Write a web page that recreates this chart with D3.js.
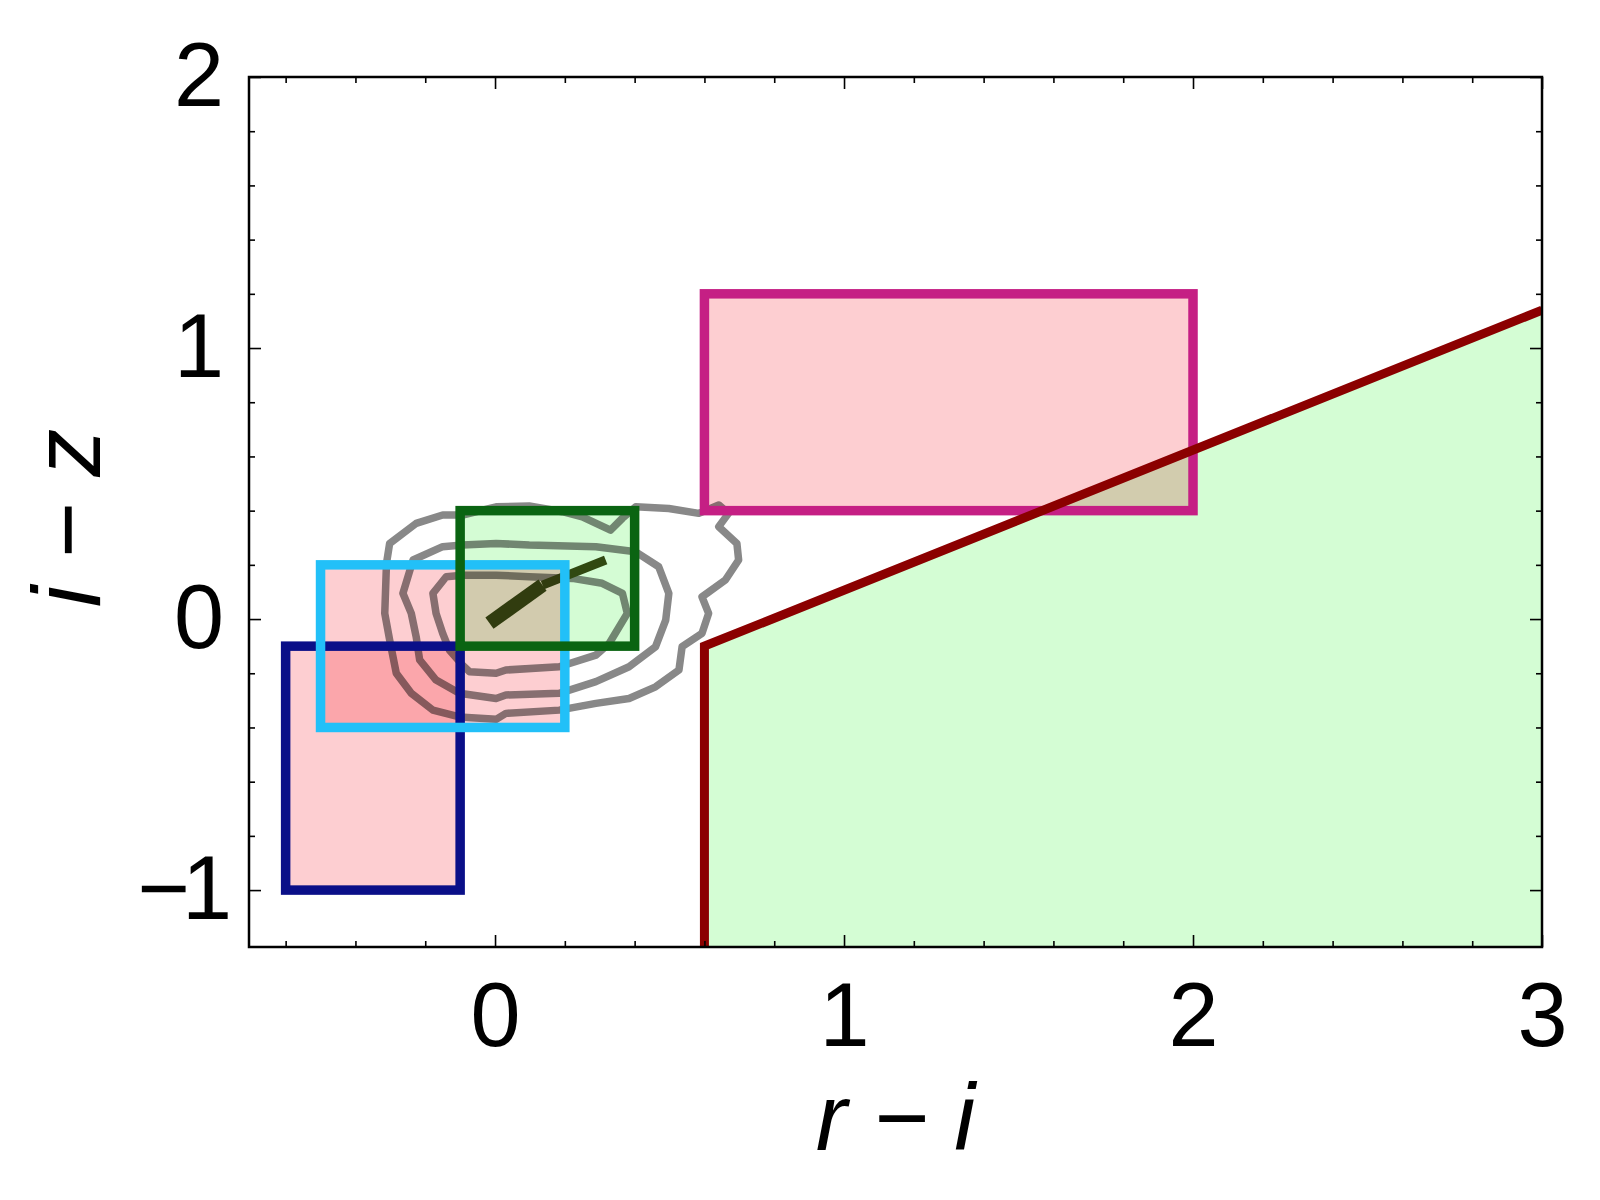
<!DOCTYPE html>
<html>
<head>
<meta charset="utf-8">
<script src="https://cdn.jsdelivr.net/npm/d3@7"></script>
<style>
  html, body { margin: 0; padding: 0; background: #fff; }
  svg { display: block; }
  .tick text { font-family: "Liberation Sans", Arial, Helvetica, sans-serif; fill: #000; }
</style>
</head>
<body>
<svg id="chart" width="1600" height="1200"></svg>
<script>
// ---------------- DATA ----------------
const xDomain = [-0.705, 3.0];
const yDomain = [-1.21, 2.0];
const xTicksMajor = [0, 1, 2, 3];
const yTicksMajor = [-1, 0, 1, 2];
const xTicksMinor = [-0.6, -0.4, -0.2, 0.2, 0.4, 0.6, 0.8, 1.2, 1.4, 1.6, 1.8, 2.2, 2.4, 2.6, 2.8];
const yTicksMinor = [-0.8, -0.6, -0.4, -0.2, 0.2, 0.4, 0.6, 0.8, 1.2, 1.4, 1.6, 1.8];
const xTitle = "r − i";
const yTitle = "i − z";

// selection boxes (r−i, i−z)
const boxNames = ["navy", "cyan", "green", "magenta"];
const boxX0 = [-0.6, -0.5, -0.1, 0.6];
const boxX1 = [-0.1, 0.2, 0.4, 2.0];
const boxY0 = [-1.0, -0.4, -0.1, 0.4];
const boxY1 = [-0.1, 0.2, 0.4, 1.2];

// colour cut (red boundary) and region below it
const cutX = [0.6, 0.6, 3.0];
const cutY = [-1.21, -0.1, 1.14];

// density contours (r−i, i−z)
const contourOuterX = [-0.311,-0.316,-0.302,-0.283,-0.240,-0.178,-0.102,0.003,0.031,0.184,0.289,0.384,0.460,0.527,0.536,0.593,0.612,0.593,0.660,0.698,0.693,0.641,0.669,0.641,0.584,0.498,0.403,0.365,0.331,0.250,0.193,0.098,0.003,-0.093,-0.150,-0.226,-0.302];
const contourOuterY = [0.206,0.021,-0.077,-0.200,-0.274,-0.336,-0.361,-0.370,-0.348,-0.336,-0.311,-0.293,-0.250,-0.188,-0.102,-0.053,0.021,0.082,0.144,0.218,0.279,0.341,0.390,0.421,0.390,0.408,0.414,0.372,0.328,0.377,0.396,0.417,0.414,0.384,0.384,0.353,0.279];
const contourMidX = [-0.235,-0.264,-0.240,-0.226,-0.216,-0.169,-0.102,0.003,0.031,0.184,0.289,0.384,0.460,0.489,0.498,0.469,0.403,0.289,0.098,0.003,-0.093,-0.150];
const contourMidY = [0.218,0.095,0.021,-0.065,-0.151,-0.225,-0.274,-0.293,-0.280,-0.274,-0.231,-0.176,-0.102,-0.004,0.095,0.193,0.248,0.267,0.273,0.279,0.273,0.267];
const contourInnerX = [-0.140,-0.178,-0.169,-0.150,-0.131,-0.093,-0.073,0.003,0.031,0.184,0.289,0.327,0.379,0.365,0.307,0.222,0.098,0.003,-0.093];
const contourInnerY = [0.156,0.095,0.021,-0.053,-0.114,-0.170,-0.194,-0.200,-0.188,-0.176,-0.133,-0.090,0.021,0.095,0.132,0.150,0.156,0.162,0.162];

// dense core streak
const streakX = [-0.016, 0.136, 0.317];
const streakY = [-0.015, 0.125, 0.218];

// ---------------- STYLE ----------------
const W = 1600, H = 1200;
const mLeft = 249, mRight = 1542, mTop = 77, mBottom = 947;
const boxStroke = { navy: "#0a0f88", cyan: "#22c0f8", green: "#0a6412", magenta: "#c51f84" };
const boxFill = { navy: "#fdced1", cyan: "#fdced1", green: "#d4fcd4", magenta: "#fdced1" };

const svg = d3.select("#chart");
svg.append("rect").attr("width", W).attr("height", H).attr("fill", "#fff");

const x = d3.scaleLinear().domain(xDomain).range([mLeft, mRight]);
const y = d3.scaleLinear().domain(yDomain).range([mBottom, mTop]);

svg.append("defs").append("clipPath").attr("id", "clip")
  .append("rect").attr("x", mLeft).attr("y", mTop).attr("width", mRight - mLeft).attr("height", mBottom - mTop);

const plot = svg.append("g").attr("clip-path", "url(#clip)").style("isolation", "isolate");
plot.append("rect").attr("x", mLeft).attr("y", mTop).attr("width", mRight - mLeft).attr("height", mBottom - mTop).attr("fill", "#fff");

// region below the cut
const cutPts = cutX.map((d, i) => [d, cutY[i]]);
const regionPts = cutPts.concat([[xDomain[1], yDomain[0]]]);
plot.append("path")
  .attr("d", d3.line().x(d => x(d[0])).y(d => y(d[1]))(regionPts) + "Z")
  .attr("fill", "#d4fdd4")
  .style("mix-blend-mode", "multiply");

// contours
const contours = [
  contourOuterX.map((d, i) => [d, contourOuterY[i]]),
  contourMidX.map((d, i) => [d, contourMidY[i]]),
  contourInnerX.map((d, i) => [d, contourInnerY[i]])
];
const cline = d3.line().x(d => x(d[0])).y(d => y(d[1])).curve(d3.curveLinearClosed);
plot.selectAll(".contour").data(contours).join("path")
  .attr("class", "contour")
  .attr("d", cline)
  .attr("fill", "none")
  .attr("stroke", "#888888")
  .attr("stroke-width", 7.5)
  .attr("stroke-linejoin", "round");

// streak
const streakPts = streakX.map((d, i) => [d, streakY[i]]);
const sline = d3.line().x(d => x(d[0])).y(d => y(d[1]));
plot.append("path").attr("d", sline(streakPts.slice(0, 2)))
  .attr("stroke", "#3a4a14").attr("stroke-width", 14).attr("fill", "none");
plot.append("path").attr("d", sline(streakPts.slice(1, 3)))
  .attr("stroke", "#3a4a14").attr("stroke-width", 9).attr("fill", "none");

// box fills (multiply)
const boxes = boxNames.map((n, i) => ({ name: n, x0: boxX0[i], x1: boxX1[i], y0: boxY0[i], y1: boxY1[i] }));
plot.selectAll(".boxfill").data(boxes).join("rect")
  .attr("class", "boxfill")
  .attr("x", d => x(d.x0)).attr("y", d => y(d.y1))
  .attr("width", d => x(d.x1) - x(d.x0)).attr("height", d => y(d.y0) - y(d.y1))
  .attr("fill", d => boxFill[d.name])
  .style("mix-blend-mode", "multiply");

// box outlines
plot.selectAll(".boxline").data(boxes).join("rect")
  .attr("class", "boxline")
  .attr("x", d => x(d.x0)).attr("y", d => y(d.y1))
  .attr("width", d => x(d.x1) - x(d.x0)).attr("height", d => y(d.y0) - y(d.y1))
  .attr("fill", "none")
  .attr("stroke", d => boxStroke[d.name])
  .attr("stroke-width", 9.5);

// cut line
plot.append("path")
  .attr("d", d3.line().x(d => x(d[0])).y(d => y(d[1]))(cutPts))
  .attr("fill", "none").attr("stroke", "#8b0000").attr("stroke-width", 9)
  .attr("stroke-linejoin", "miter");

// ---------------- AXES ----------------
const fmt = d3.format("d");
function styleAxis(g) {
  g.select(".domain").remove();
  g.selectAll(".tick line").attr("stroke", "#000").attr("stroke-width", 1.6);
}
// bottom
svg.append("g").attr("transform", `translate(0,${mBottom})`)
  .call(d3.axisBottom(x).tickValues(xTicksMajor).tickFormat(fmt).tickSizeInner(-12).tickSizeOuter(0).tickPadding(35))
  .call(styleAxis)
  .call(g => g.selectAll("text").attr("font-size", 90));
svg.append("g").attr("transform", `translate(0,${mBottom})`)
  .call(d3.axisBottom(x).tickValues(xTicksMinor).tickFormat("").tickSizeInner(-6).tickSizeOuter(0))
  .call(styleAxis);
// top
svg.append("g").attr("transform", `translate(0,${mTop})`)
  .call(d3.axisTop(x).tickValues(xTicksMajor).tickFormat("").tickSizeInner(-12).tickSizeOuter(0))
  .call(styleAxis);
svg.append("g").attr("transform", `translate(0,${mTop})`)
  .call(d3.axisTop(x).tickValues(xTicksMinor).tickFormat("").tickSizeInner(-6).tickSizeOuter(0))
  .call(styleAxis);
// left
svg.append("g").attr("transform", `translate(${mLeft},0)`)
  .call(d3.axisLeft(y).tickValues(yTicksMajor).tickFormat(fmt).tickSizeInner(-12).tickSizeOuter(0).tickPadding(25))
  .call(styleAxis)
  .call(g => g.selectAll("text").attr("font-size", 90).attr("letter-spacing", d => d < 0 ? -8 : 0));
svg.append("g").attr("transform", `translate(${mLeft},0)`)
  .call(d3.axisLeft(y).tickValues(yTicksMinor).tickFormat("").tickSizeInner(-6).tickSizeOuter(0))
  .call(styleAxis);
// right
svg.append("g").attr("transform", `translate(${mRight},0)`)
  .call(d3.axisRight(y).tickValues(yTicksMajor).tickFormat("").tickSizeInner(-12).tickSizeOuter(0))
  .call(styleAxis);
svg.append("g").attr("transform", `translate(${mRight},0)`)
  .call(d3.axisRight(y).tickValues(yTicksMinor).tickFormat("").tickSizeInner(-6).tickSizeOuter(0))
  .call(styleAxis);

// frame
svg.append("rect").attr("x", mLeft).attr("y", mTop).attr("width", mRight - mLeft).attr("height", mBottom - mTop)
  .attr("fill", "none").attr("stroke", "#000").attr("stroke-width", 2.5);

// titles
svg.append("text")
  .attr("x", (mLeft + mRight) / 2).attr("y", 1150)
  .attr("text-anchor", "middle")
  .attr("font-family", "'Liberation Sans', Arial, Helvetica, sans-serif")
  .attr("font-style", "italic").attr("font-size", 94)
  .text(xTitle);
svg.append("text")
  .attr("transform", `translate(100,${(mTop + mBottom) / 2 + 6}) rotate(-90)`)
  .attr("text-anchor", "middle")
  .attr("font-family", "'Liberation Sans', Arial, Helvetica, sans-serif")
  .attr("font-style", "italic").attr("font-size", 96)
  .text(yTitle);
</script>
</body>
</html>
